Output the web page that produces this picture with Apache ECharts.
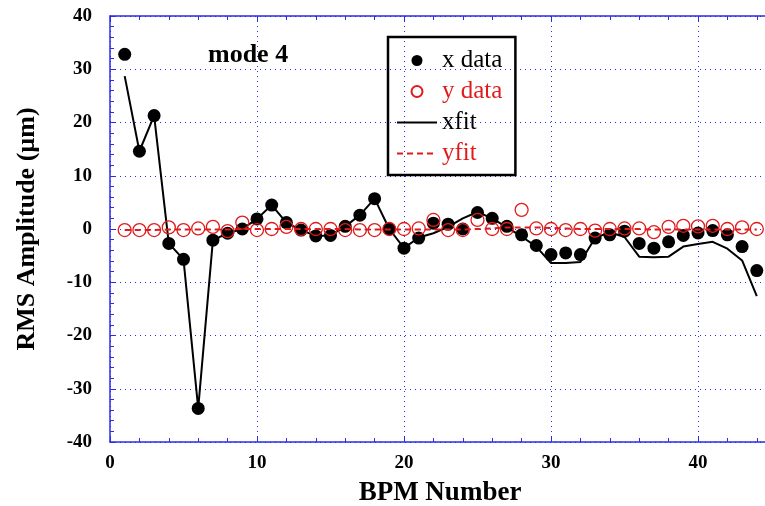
<!DOCTYPE html>
<html>
<head>
<meta charset="utf-8">
<script src="https://cdn.jsdelivr.net/npm/echarts@6/dist/echarts.min.js"></script>
<style>
  html, body { margin: 0; padding: 0; background: #fff; }
  #chart { width: 765px; height: 506px; }
</style>
</head>
<body>
<div id="chart"></div>
<script>
// BPM 编号
const bpm = [1, 2, 3, 4, 5, 6, 7, 8, 9, 10, 11, 12, 13, 14, 15, 16, 17, 18, 19, 20, 21, 22,
  23, 24, 25, 26, 27, 28, 29, 30, 31, 32, 33, 34, 35, 36, 37, 38, 39, 40, 41, 42, 43, 44]
// x 测量值
const xData = [32.8, 14.6, 21.3, -2.7, -5.7, -33.7, -2.1, -0.8, 0.0, 1.9, 4.5, 1.2, -0.2, -1.3,
  -1.2, 0.5, 2.6, 5.7, 0.0, -3.6, -1.7, 1.1, 0.9, 0.0, 3.1, 2.0, 0.5, -1.1, -3.1, -4.8, -4.5,
  -4.8, -1.7, -1.1, -0.4, -2.7, -3.6, -2.4, -1.2, -0.75, -0.3, -1.1, -3.3, -7.8]
// y 测量值
const yData = [-0.2, -0.2, -0.2, 0.3, -0.2, 0.1, 0.4, -0.4, 1.2, -0.2, 0.0, 0.4, 0.0, 0.0,
  0.0, -0.2, -0.2, -0.2, 0.0, 0.0, 0.1, 1.7, -0.2, -0.2, 1.7, 0.0, 0.0, 3.6, 0.1, 0.0, -0.2,
  0.0, -0.3, 0.0, 0.1, 0.1, -0.6, 0.4, 0.6, 0.5, 0.6, 0.0, 0.3, 0.0]
// x 拟合
const xFit = [28.7, 14.6, 21.3, -2.7, -5.7, -33.7, -2.1, -0.8, 0.0, 1.9, 4.5, 1.2, -0.2, -1.3,
  -1.2, 0.5, 2.6, 5.7, 0.0, -3.6, -1.6, -0.8, 0.4, 2.0, 3.2, 2.0, 0.3, -1.4, -3.3, -6.4, -6.4,
  -6.2, -1.7, -0.6, -1.5, -5.2, -5.3, -5.2, -3.3, -2.8, -2.4, -3.7, -5.9, -12.6]
// y 拟合
const yFit = [-0.2, -0.2, -0.2, -0.1, -0.1, -0.1, -0.1, -0.1, 0.0, 0.0, 0.0, 0.0, 0.0, 0.0,
  0.0, 0.0, -0.1, -0.1, -0.1, -0.1, -0.1, -0.1, -0.1, -0.1, 0.0, 0.1, 0.3, 0.3, 0.3, 0.2, 0.1,
  0.0, 0.0, 0.0, 0.0, 0.0, -0.1, -0.1, -0.1, -0.1, -0.1, -0.1, -0.1, -0.1]
const xTicks = [0, 10, 20, 30, 40]
const yTicks = [-40, -30, -20, -10, 0, 10, 20, 30, 40]

const pairs = (ys) => bpm.map((b, i) => [b, ys[i]])

const blue = '#2b2bea'
const red = '#e01b1b'
const serif = '"Liberation Serif", "Times New Roman", serif'

const chart = echarts.init(document.getElementById('chart'), null, { renderer: 'canvas' })

const axisBase = {
  type: 'value',
  axisLine: { show: true, onZero: false, lineStyle: { color: blue, width: 1.5 } },
  axisTick: { show: true, inside: true, length: 6, lineStyle: { color: blue } },
  minorTick: { show: true, splitNumber: 5, length: 4, lineStyle: { color: blue } },
}

// 图例里拟合线只画线，不画点
const noSymbol = { color: 'rgba(0,0,0,0)', borderWidth: 0, opacity: 0 }

const options = {
  animation: false,
  backgroundColor: '#fff',
  textStyle: { fontFamily: serif },
  title: {
    text: 'mode 4',
    left: 203,
    top: 37,
    textStyle: { fontFamily: serif, fontSize: 26, fontWeight: 'bold', color: '#000' },
  },
  // x 轴画到 50，右边界超出画布（原图右侧被裁掉）
  grid: { left: 110, right: -80, top: 16, bottom: 64, outerBoundsMode: 'none' },
  legend: {
    orient: 'vertical',
    left: 388,
    top: 37,
    padding: [11, 13, 9, 8],
    borderColor: '#000',
    borderWidth: 2.5,
    itemWidth: 40,
    itemHeight: 11,
    itemGap: 6,
    textStyle: { fontFamily: serif, fontSize: 25, lineHeight: 24, color: '#000' },
    data: [
      { name: 'x data', textStyle: { color: '#000' } },
      { name: 'y data', textStyle: { color: red } },
      { name: 'xfit', textStyle: { color: '#000' }, itemStyle: noSymbol },
      { name: 'yfit', textStyle: { color: red }, itemStyle: noSymbol },
    ],
  },
  xAxis: [
    {
      ...axisBase,
      min: 0,
      max: 50,
      interval: 10,
      name: 'BPM Number',
      nameLocation: 'start',
      nameGap: -330,
      nameTextStyle: {
        fontFamily: serif, fontSize: 27, fontWeight: 'bold', color: '#000',
        align: 'center', verticalAlign: 'top', padding: [38, 0, 0, 0],
      },
      axisLabel: {
        margin: 12,
        fontFamily: serif,
        fontSize: 19,
        fontWeight: 'bold',
        color: '#000',
        formatter: (v) => (xTicks.includes(v) ? String(v) : ''),
      },
      splitLine: { show: true, lineStyle: { color: blue, type: [1, 4], width: 1 } },
    },
    {
      ...axisBase,
      position: 'top',
      min: 0,
      max: 50,
      interval: 10,
      axisLabel: { show: false },
      splitLine: { show: false },
    },
  ],
  yAxis: {
    ...axisBase,
    min: -40,
    max: 40,
    interval: 10,
    name: 'RMS Amplitude (µm)',
    nameLocation: 'middle',
    nameGap: 70,
    nameTextStyle: { fontFamily: serif, fontSize: 26, fontWeight: 'bold', color: '#000' },
    axisLabel: {
      margin: 18,
      fontFamily: serif,
      fontSize: 19,
      fontWeight: 'bold',
      color: '#000',
      formatter: (v) => (yTicks.includes(v) ? String(v) : ''),
    },
    splitLine: { show: true, lineStyle: { color: blue, type: [1, 4], width: 1 } },
  },
  series: [
    {
      name: 'x data',
      type: 'scatter',
      data: pairs(xData),
      symbol: 'circle',
      symbolSize: 13,
      itemStyle: { color: '#000', opacity: 1 },
      z: 2,
    },
    {
      name: 'xfit',
      type: 'line',
      data: pairs(xFit),
      symbol: 'none',
      lineStyle: { color: '#000', width: 2 },
      itemStyle: { color: '#000' },
      z: 3,
    },
    {
      name: 'y data',
      type: 'scatter',
      data: pairs(yData),
      symbol: 'circle',
      symbolSize: 13,
      itemStyle: { color: 'rgba(0,0,0,0)', borderColor: red, borderWidth: 1.3, opacity: 1 },
      z: 4,
    },
    {
      name: 'yfit',
      type: 'line',
      data: pairs(yFit),
      symbol: 'none',
      lineStyle: { color: red, width: 2, type: [6, 4] },
      itemStyle: { color: red },
      z: 5,
    },
  ],
}

chart.setOption(options)
window.addEventListener('resize', () => {
  chart.resize()
})
</script>
</body>
</html>
